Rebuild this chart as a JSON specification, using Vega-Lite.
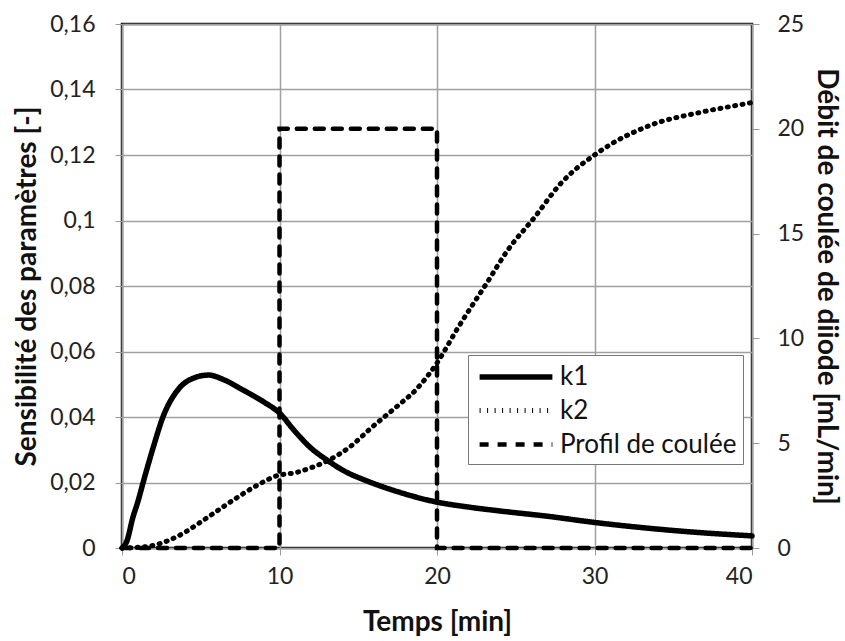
{
  "$schema": "https://vega.github.io/schema/vega-lite/v6.json",
  "autosize": {"type": "none"},
  "width": 630,
  "height": 524,
  "padding": {"left": 122, "top": 24, "right": 93, "bottom": 93},
  "background": "white",
  "config": {
    "view": {"stroke": "#1a1a1a", "strokeWidth": 2.5},
    "font": "Lato",
    "axis": {
      "labelFont": "Lato",
      "labelFontSize": 23,
      "labelColor": "#222",
      "titleFont": "Lato",
      "titleFontSize": 28,
      "titleFontWeight": "bold",
      "titleColor": "#111",
      "tickColor": "#999",
      "tickSize": 7,
      "domain": false,
      "gridColor": "#a0a0a0",
      "gridWidth": 1.5
    },
    "legend": {
      "labelFont": "Lato",
      "labelFontSize": 26,
      "labelColor": "#111",
      "labelLimit": 400,
      "symbolType": "M-2.8,0H2.8",
      "symbolSize": 676,
      "symbolOffset": 26,
      "symbolStrokeColor": "black",
      "strokeColor": "#777",
      "fillColor": "white",
      "padding": 6,
      "rowPadding": 5,
      "labelOffset": 28
    }
  },
  "datasets": {
    "sens": [
      {"t": 0, "serie": "k1", "v": 0},
      {"t": 0.3, "serie": "k1", "v": 0.002},
      {"t": 0.7, "serie": "k1", "v": 0.0095},
      {"t": 1.0, "serie": "k1", "v": 0.0140},
      {"t": 1.33, "serie": "k1", "v": 0.0198},
      {"t": 2.0, "serie": "k1", "v": 0.031},
      {"t": 2.6, "serie": "k1", "v": 0.040},
      {"t": 3.5, "serie": "k1", "v": 0.048},
      {"t": 4.5, "serie": "k1", "v": 0.0518},
      {"t": 5.5, "serie": "k1", "v": 0.0528},
      {"t": 6.5, "serie": "k1", "v": 0.0513},
      {"t": 7.7, "serie": "k1", "v": 0.0482},
      {"t": 9.0, "serie": "k1", "v": 0.0446},
      {"t": 10.0, "serie": "k1", "v": 0.0412},
      {"t": 11.0, "serie": "k1", "v": 0.0355},
      {"t": 12.0, "serie": "k1", "v": 0.0305},
      {"t": 13.0, "serie": "k1", "v": 0.0269},
      {"t": 14.0, "serie": "k1", "v": 0.0238},
      {"t": 15.7, "serie": "k1", "v": 0.0202},
      {"t": 17.5, "serie": "k1", "v": 0.0172},
      {"t": 20.0, "serie": "k1", "v": 0.0140},
      {"t": 22.0, "serie": "k1", "v": 0.0125},
      {"t": 24.0, "serie": "k1", "v": 0.0113},
      {"t": 27.0, "serie": "k1", "v": 0.0097},
      {"t": 30.0, "serie": "k1", "v": 0.0078},
      {"t": 33.5, "serie": "k1", "v": 0.0060},
      {"t": 36.7, "serie": "k1", "v": 0.0047},
      {"t": 40.0, "serie": "k1", "v": 0.0037},
      {"t": 0, "serie": "k2", "v": 0},
      {"t": 1.0, "serie": "k2", "v": 0.0002},
      {"t": 1.8, "serie": "k2", "v": 0.0006},
      {"t": 3.0, "serie": "k2", "v": 0.0024},
      {"t": 4.0, "serie": "k2", "v": 0.0048},
      {"t": 4.8, "serie": "k2", "v": 0.0073},
      {"t": 6.4, "serie": "k2", "v": 0.0125},
      {"t": 7.5, "serie": "k2", "v": 0.0160},
      {"t": 8.6, "serie": "k2", "v": 0.0192},
      {"t": 9.8, "serie": "k2", "v": 0.0220},
      {"t": 11.1, "serie": "k2", "v": 0.0231},
      {"t": 12.0, "serie": "k2", "v": 0.0245},
      {"t": 13.0, "serie": "k2", "v": 0.0265},
      {"t": 14.5, "serie": "k2", "v": 0.0310},
      {"t": 15.9, "serie": "k2", "v": 0.0370},
      {"t": 17.5, "serie": "k2", "v": 0.0434},
      {"t": 18.7, "serie": "k2", "v": 0.0485},
      {"t": 20.0, "serie": "k2", "v": 0.0565},
      {"t": 21.3, "serie": "k2", "v": 0.0670},
      {"t": 23.2, "serie": "k2", "v": 0.0812},
      {"t": 24.5, "serie": "k2", "v": 0.0910},
      {"t": 26.2, "serie": "k2", "v": 0.1010},
      {"t": 27.8, "serie": "k2", "v": 0.1110},
      {"t": 30.3, "serie": "k2", "v": 0.1210},
      {"t": 33.5, "serie": "k2", "v": 0.1290},
      {"t": 36.7, "serie": "k2", "v": 0.1330},
      {"t": 39.2, "serie": "k2", "v": 0.1353},
      {"t": 40.0, "serie": "k2", "v": 0.1360}
    ],
    "profil": [
      {"i": 1, "t": 0, "serie": "Profil de coulée", "debit": 0},
      {"i": 2, "t": 10, "serie": "Profil de coulée", "debit": 0},
      {"i": 3, "t": 10, "serie": "Profil de coulée", "debit": 20},
      {"i": 4, "t": 20, "serie": "Profil de coulée", "debit": 20},
      {"i": 5, "t": 20, "serie": "Profil de coulée", "debit": 0},
      {"i": 6, "t": 40, "serie": "Profil de coulée", "debit": 0}
    ]
  },
  "layer": [
    {
      "data": {"name": "sens"},
      "mark": {"type": "line", "color": "black", "strokeCap": "round", "strokeJoin": "round", "interpolate": "monotone"},
      "encoding": {
        "x": {
          "field": "t", "type": "quantitative",
          "scale": {"domain": [0, 40], "nice": false},
          "axis": {"values": [0, 10, 20, 30, 40], "title": "Temps [min]", "labelPadding": 10, "titlePadding": 20, "grid": true}
        },
        "y": {
          "field": "v", "type": "quantitative",
          "scale": {"domain": [0, 0.16], "nice": false},
          "axis": {
            "values": [0, 0.02, 0.04, 0.06, 0.08, 0.1, 0.12, 0.14, 0.16],
            "labelExpr": "replace(format(datum.value, '.2~f'), '.', ',')",
            "title": "Sensibilité des paramètres [-]",
            "labelPadding": 20,
            "titlePadding": 8,
            "grid": true
          }
        },
        "detail": {"field": "serie"},
        "strokeDash": {
          "field": "serie", "type": "nominal",
          "scale": {"domain": ["k1", "k2", "Profil de coulée"], "range": [[1, 0], [1, 6.5], [9, 9]]},
          "legend": {"title": null, "orient": "none", "legendX": 346, "legendY": 331}
        },
        "strokeWidth": {
          "field": "serie", "type": "nominal",
          "scale": {"domain": ["k1", "k2", "Profil de coulée"], "range": [5.5, 4.5, 4]},
          "legend": {"title": null, "orient": "none", "legendX": 346, "legendY": 331}
        }
      }
    },
    {
      "data": {"name": "profil"},
      "mark": {"type": "line", "color": "black", "strokeCap": "round"},
      "encoding": {
        "x": {"field": "t", "type": "quantitative"},
        "y": {
          "field": "debit", "type": "quantitative",
          "scale": {"domain": [0, 25], "nice": false},
          "axis": {
            "orient": "right",
            "values": [0, 5, 10, 15, 20, 25],
            "title": "Débit de coulée de diiode [mL/min]",
            "labelPadding": 18,
            "titlePadding": 8,
            "grid": false
          }
        },
        "order": {"field": "i", "type": "quantitative"},
        "strokeDash": {"field": "serie", "type": "nominal"},
        "strokeWidth": {"field": "serie", "type": "nominal"}
      }
    }
  ],
  "resolve": {"scale": {"y": "independent"}, "axis": {"y": "independent"}}
}
